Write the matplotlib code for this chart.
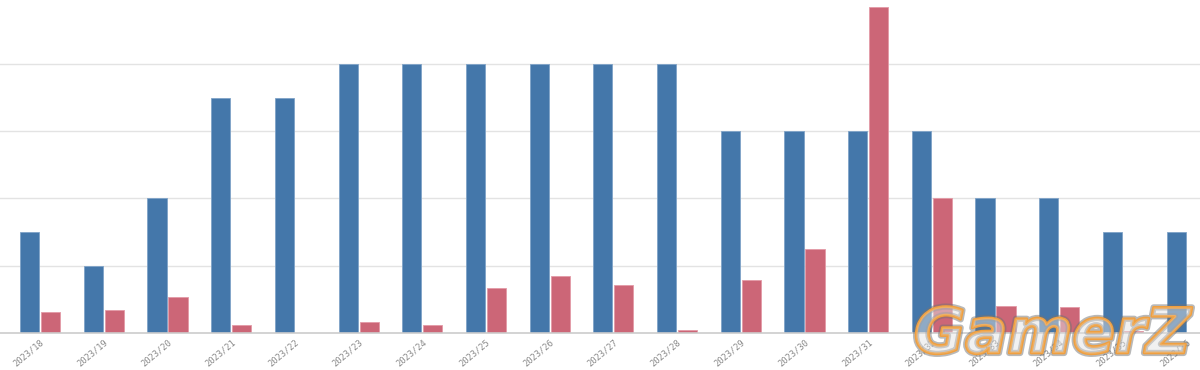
import matplotlib
matplotlib.use("Agg")
import matplotlib.pyplot as plt
import matplotlib.patheffects as pe
import numpy as np

weeks = ["2023/18", "2023/19", "2023/20", "2023/21", "2023/22", "2023/23", "2023/24",
         "2023/25", "2023/26", "2023/27", "2023/28", "2023/29", "2023/30", "2023/31",
         "2023/32", "2023/33", "2023/34", "2023/35", "2023/36"]
series_blue = [3, 2, 4, 7, 7, 8, 8, 8, 8, 8, 8, 6, 6, 6, 6, 4, 4, 3, 3]
series_red = [0.62, 0.68, 1.07, 0.24, 0.0, 0.33, 0.24, 1.34, 1.70, 1.43, 0.09,
              1.58, 2.5, 9.7, 4.0, 0.8, 0.77, 0.06, 0.0]

blue = "#4477aa"
red = "#cc6677"

fig = plt.figure(figsize=(12, 3.7), dpi=100)
ax = fig.add_axes([0, 0.1, 1, 0.9])

x = np.arange(len(weeks))
w = 0.30
off = 0.165
ax.bar(x - off, series_blue, width=w, color=blue, edgecolor="#7fa3c8", linewidth=0.6, zorder=3)
ax.bar(x + off, series_red, width=w, color=red, edgecolor="#e39aa6", linewidth=0.6, zorder=3)

ax.set_xlim(-0.63, 18.21)
ax.set_ylim(0, 9.9)
ax.set_yticks([2, 4, 6, 8])
ax.yaxis.grid(True, color="#e3e3e3", linewidth=1, zorder=0)
ax.tick_params(axis="y", length=0, labelleft=False)
for s in ["top", "right", "left"]:
    ax.spines[s].set_visible(False)
ax.spines["bottom"].set_color("#cccccc")
ax.spines["bottom"].set_linewidth(1.2)
ax.spines["bottom"].set_zorder(4)

ax.set_xticks(x)
ax.set_xticklabels(weeks, rotation=40, ha="right", rotation_mode="anchor",
                   fontsize=6.3, color="#8a8a8a", family="DejaVu Sans Mono")
ax.tick_params(axis="x", length=0, pad=3)

fig.text(0.877, 0.092, "GamerZ", fontsize=45, fontstyle="italic", fontweight="bold",
         family="DejaVu Sans", color=(0.9, 0.9, 0.9, 0.12), ha="center", va="center",
         path_effects=[pe.withStroke(linewidth=4.5, foreground=(0.45, 0.45, 0.45, 0.5)),
                       pe.withStroke(linewidth=2, foreground="#f0a040"),
                       pe.Normal()], zorder=10)

fig.savefig("out.png", dpi=100)
